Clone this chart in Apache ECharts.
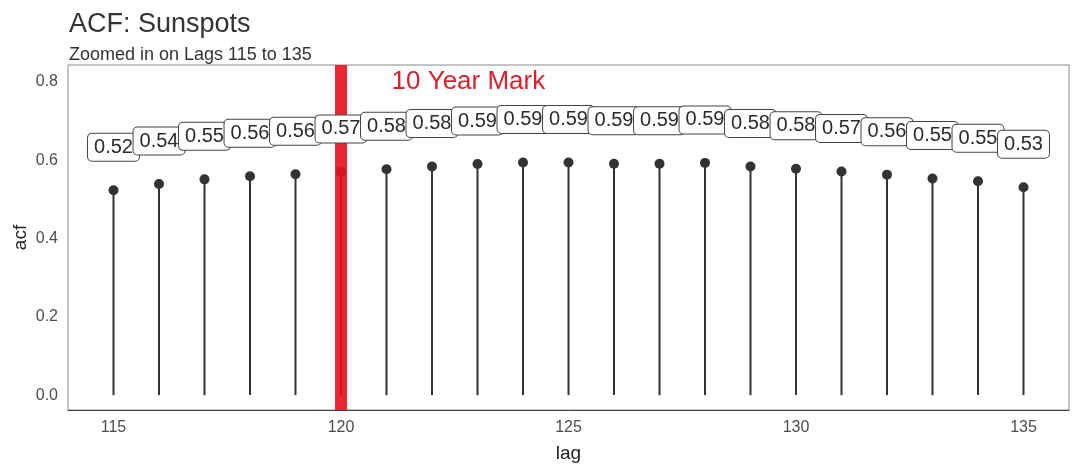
<!DOCTYPE html>
<html>
<head>
<meta charset="utf-8">
<script src="https://cdn.jsdelivr.net/npm/echarts@6/dist/echarts.min.js"></script>
<style>
  html, body { margin: 0; padding: 0; background: #fff; }
  #main { width: 1080px; height: 473px; }
</style>
</head>
<body>
<div id="main"></div>
<script>
// acf values for lags 115..135
var lags = [115, 116, 117, 118, 119, 120, 121, 122, 123, 124, 125,
            126, 127, 128, 129, 130, 131, 132, 133, 134, 135]
var acf = [0.523, 0.539, 0.551, 0.559, 0.564, 0.570, 0.577, 0.584, 0.590, 0.594, 0.594,
           0.591, 0.591, 0.593, 0.584, 0.578, 0.571, 0.563, 0.553, 0.546, 0.531]
var markLag = 120
var noteX = 122.8
var noteY = 0.8
var noteText = '10 Year Mark'

var chart = echarts.init(document.getElementById('main'), null, { renderer: 'canvas' })

var points = lags.map(function (l, i) { return [l, acf[i]] })
var font = 'Liberation Sans'

var option = {
  backgroundColor: '#fff',
  animation: false,
  title: [
    {
      text: 'ACF: Sunspots',
      left: 64, top: 6,
      textStyle: { fontFamily: font, fontSize: 27, fontWeight: 'normal', color: '#333' }
    },
    {
      text: 'Zoomed in on Lags 115 to 135',
      left: 64, top: 41,
      textStyle: { fontFamily: font, fontSize: 18, fontWeight: 'normal', color: '#333' }
    }
  ],
  grid: {
    left: 68, top: 65, width: 1001, height: 345,
    outerBoundsMode: 'none',
    containLabel: false,
    show: true, borderColor: '#888', borderWidth: 1, backgroundColor: 'transparent'
  },
  xAxis: {
    type: 'value',
    min: 114, max: 136, interval: 1,
    name: 'lag', nameLocation: 'middle', nameGap: 34,
    nameTextStyle: { fontFamily: font, fontSize: 19, color: '#222' },
    axisLine: { show: true, onZero: false, lineStyle: { color: '#444', width: 1 } },
    axisTick: { show: false },
    splitLine: { show: false },
    axisLabel: {
      margin: 10,
      fontFamily: font, fontSize: 16, color: '#4d4d4d',
      formatter: function (v) { return v % 5 === 0 ? String(v) : '' }
    }
  },
  yAxis: {
    type: 'value',
    min: -0.038, max: 0.843, splitNumber: 4,
    name: 'acf', nameLocation: 'middle', nameGap: 38, nameRotate: 90,
    nameMoveOverlap: false,
    nameTextStyle: { fontFamily: font, fontSize: 19, color: '#222' },
    axisLine: { show: false },
    axisTick: { show: false },
    splitLine: { show: false },
    axisLabel: {
      margin: 10, showMinLabel: false, showMaxLabel: false,
      fontFamily: font, fontSize: 16, color: '#4d4d4d',
      formatter: function (v) {
        var r = Math.round(v * 5) / 5
        return Math.abs(v - r) < 1e-6 ? r.toFixed(1) : ''
      }
    }
  },
  series: [
    {
      // stems
      type: 'bar',
      data: points,
      barWidth: 2,
      itemStyle: { color: '#333' },
      silent: true,
      z: 2
    },
    {
      // dots
      type: 'scatter',
      data: points,
      symbolSize: 10,
      itemStyle: { color: '#333', opacity: 1 },
      silent: true,
      z: 3,
      markLine: {
        silent: true,
        symbol: 'none',
        z: 10,
        label: { show: false },
        lineStyle: { color: 'rgba(230,16,28,0.9)', width: 12, type: 'solid' },
        data: [{ xAxis: markLag }]
      }
    },
    {
      // value labels, above the red line
      type: 'scatter',
      data: points,
      symbolSize: 0,
      silent: true,
      z: 12,
      itemStyle: { opacity: 1 },
      label: {
        show: true,
        position: 'inside',
        offset: [0, -43],
        formatter: function (p) { return p.value[1].toFixed(2) },
        fontFamily: font, fontSize: 20, color: '#2b2b2b',
        backgroundColor: '#fff',
        borderColor: '#444', borderWidth: 1, borderRadius: 4,
        padding: [4, 6, 3, 6]
      }
    },
    {
      // annotation
      type: 'scatter',
      data: [[noteX, noteY]],
      symbolSize: 0,
      silent: true,
      z: 13,
      itemStyle: { opacity: 1 },
      label: {
        show: true,
        position: 'inside',
        formatter: noteText,
        fontFamily: font, fontSize: 26, color: '#dc1f2b'
      }
    }
  ]
}

chart.setOption(option)
</script>
</body>
</html>
